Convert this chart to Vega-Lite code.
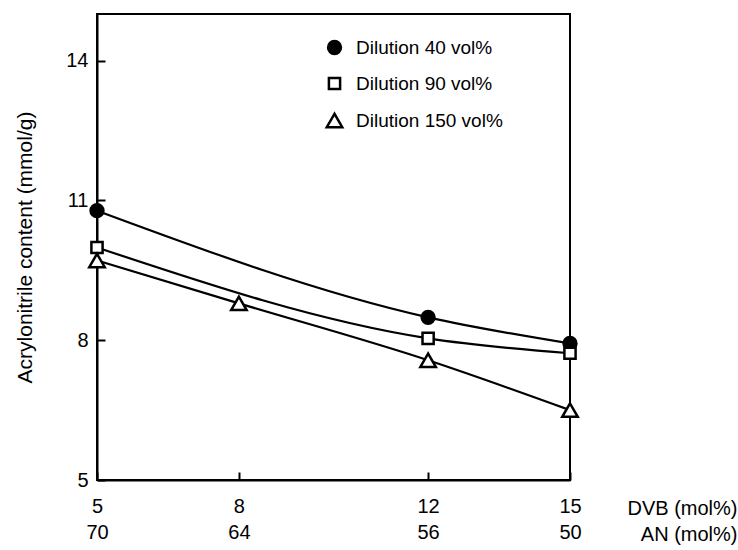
{
  "$schema": "https://vega.github.io/schema/vega-lite/v6.json",
  "autosize": "none",
  "width": 473,
  "height": 466,
  "padding": {"left": 97, "top": 14, "right": 168, "bottom": 70},
  "background": "white",
  "config": {
    "font": "Liberation Sans",
    "view": {"stroke": "black", "strokeWidth": 2},
    "axis": {"grid": false, "domainColor": "black", "domainWidth": 2, "tickColor": "black", "tickWidth": 2, "labelColor": "black", "titleColor": "black", "labelFontSize": 20, "titleFontSize": 20, "titleFontWeight": "normal"},
    "legend": {"orient": "none", "legendX": 228, "legendY": 24, "labelFontSize": 19, "labelColor": "black", "symbolStrokeWidth": 2.5, "rowPadding": 13, "labelOffset": 12, "symbolOpacity": 1}
  },
  "data": {
    "values": [
      {"series": "Dilution 40 vol%", "dvb": 5, "content": 10.78},
      {"series": "Dilution 40 vol%", "dvb": 12, "content": 8.49},
      {"series": "Dilution 40 vol%", "dvb": 15, "content": 7.93},
      {"series": "Dilution 90 vol%", "dvb": 5, "content": 9.99},
      {"series": "Dilution 90 vol%", "dvb": 12, "content": 8.04},
      {"series": "Dilution 90 vol%", "dvb": 15, "content": 7.72},
      {"series": "Dilution 150 vol%", "dvb": 5, "content": 9.71},
      {"series": "Dilution 150 vol%", "dvb": 8, "content": 8.79},
      {"series": "Dilution 150 vol%", "dvb": 12, "content": 7.57},
      {"series": "Dilution 150 vol%", "dvb": 15, "content": 6.5}
    ]
  },
  "encoding": {
    "x": {
      "field": "dvb", "type": "quantitative",
      "scale": {"domain": [5, 15], "nice": false, "zero": false},
      "axis": {
        "values": [5, 8, 12, 15],
        "labelExpr": "datum.value == 5 ? ['5','70'] : datum.value == 8 ? ['8','64'] : datum.value == 12 ? ['12','56'] : ['15','50']",
        "labelLineHeight": 26,
        "labelPadding": 24,
        "tickSize": -8,
        "labelFlush": false,
        "labelOverlap": false,
        "title": ["DVB (mol%)", "AN (mol%)"],
        "titleAlign": "right",
        "titleBaseline": "top",
        "titleLineHeight": 26,
        "titleX": 640,
        "titleY": 18
      }
    },
    "y": {
      "field": "content", "type": "quantitative",
      "scale": {"domain": [5, 15], "nice": false, "zero": false},
      "axis": {
        "values": [5, 8, 11, 14],
        "tickSize": -8,
        "labelPadding": 17,
        "title": "Acrylonitrile content (mmol/g)",
        "titleFontSize": 21,
        "titleX": -72,
        "titleY": 233,
        "titleAngle": 270,
        "titleBaseline": "middle",
        "titleAlign": "center"
      }
    }
  },
  "layer": [
    {
      "mark": {"type": "line", "interpolate": "monotone", "color": "black", "strokeWidth": 2.2},
      "encoding": {"detail": {"field": "series"}}
    },
    {
      "mark": {"type": "point", "filled": false, "strokeWidth": 2.5, "opacity": 1},
      "encoding": {
        "shape": {
          "field": "series", "type": "ordinal",
          "scale": {"domain": ["Dilution 40 vol%", "Dilution 90 vol%", "Dilution 150 vol%"], "range": ["circle", "square", "triangle-up"]},
          "legend": {"title": null}
        },
        "fill": {
          "field": "series", "type": "ordinal",
          "scale": {"domain": ["Dilution 40 vol%", "Dilution 90 vol%", "Dilution 150 vol%"], "range": ["black", "white", "white"]},
          "legend": {"title": null}
        },
        "stroke": {
          "field": "series", "type": "ordinal",
          "scale": {"domain": ["Dilution 40 vol%", "Dilution 90 vol%", "Dilution 150 vol%"], "range": ["black", "black", "black"]},
          "legend": {"title": null}
        },
        "size": {
          "field": "series", "type": "ordinal",
          "scale": {"type": "ordinal", "domain": ["Dilution 40 vol%", "Dilution 90 vol%", "Dilution 150 vol%"], "range": [165, 125, 240]},
          "legend": {"title": null}
        }
      }
    }
  ]
}
